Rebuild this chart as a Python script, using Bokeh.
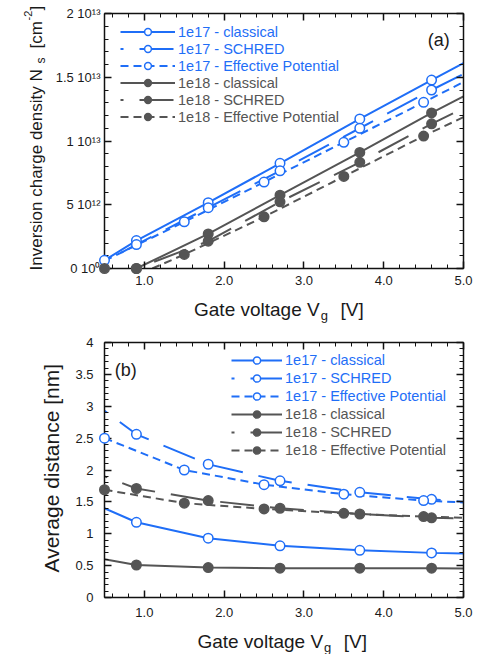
import math
from bokeh.plotting import figure
from bokeh.models import (FixedTicker, LinearAxis, Legend, LegendItem, Range1d)
from bokeh.core.properties import value
from bokeh.layouts import column
from bokeh.embed import file_html
from bokeh.resources import INLINE

BLUE = "#1f6ef7"
GRAY = "#555555"
FONT = "Liberation Sans"
TXT = "#1a1a1a"

# ---------------- data: panel (a)  Ns in units of 1e12 cm^-2 ----------------
a17_cl_v = [0.5, 0.9, 1.8, 2.7, 3.7, 4.6, 5.0]
a17_cl_n = [0.64, 2.19, 5.16, 8.25, 11.73, 14.78, 16.1]
a17_cl_mv = [0.9, 1.8, 2.7, 3.7, 4.6]
a17_cl_mn = [2.19, 5.16, 8.25, 11.73, 14.78]

a17_sc_v = [0.5, 0.9, 1.8, 2.7, 3.7, 4.6, 5.0]
a17_sc_n = [0.55, 1.88, 4.77, 7.66, 11.0, 14.0, 15.25]
a17_sc_mv = [0.9, 1.8, 2.7, 3.7, 4.6]
a17_sc_mn = [1.88, 4.77, 7.66, 11.0, 14.0]

a17_ep_v = [0.5, 1.5, 2.5, 3.5, 4.5, 5.0]
a17_ep_n = [0.6, 3.66, 6.78, 9.9, 13.03, 14.63]
a17_ep_mv = [0.5, 1.5, 2.5, 3.5, 4.5]
a17_ep_mn = [0.64, 3.66, 6.78, 9.9, 13.03]

a18_cl_v = [0.9, 1.8, 2.7, 3.7, 4.6, 5.0]
a18_cl_n = [0.0, 2.71, 5.75, 9.1, 12.2, 13.5]
a18_cl_mv = [0.9, 1.8, 2.7, 3.7, 4.6]
a18_cl_mn = [0.0, 2.71, 5.75, 9.1, 12.2]

a18_sc_v = [0.9, 1.8, 2.7, 3.7, 4.6, 5.0]
a18_sc_n = [0.0, 2.14, 5.23, 8.33, 11.35, 12.56]
a18_sc_mv = [0.9, 1.8, 2.7, 3.7, 4.6]
a18_sc_mn = [0.0, 2.14, 5.23, 8.33, 11.35]

a18_ep_v = [1.1, 1.5, 2.5, 3.5, 4.5, 5.0]
a18_ep_n = [0.0, 1.1, 4.05, 7.22, 10.39, 11.87]
a18_ep_mv = [0.5, 1.5, 2.5, 3.5, 4.5]
a18_ep_mn = [0.0, 1.1, 4.05, 7.22, 10.39]

# ---------------- data: panel (b)  average distance [nm] ----------------
b_v = [0.5, 0.9, 1.8, 2.7, 3.7, 4.6, 5.0]
b_mv = [0.9, 1.8, 2.7, 3.7, 4.6]
b_ep_v = [0.5, 1.5, 2.5, 3.5, 4.5, 5.0]
b_ep_mv = [0.5, 1.5, 2.5, 3.5, 4.5]

b17_cl = [1.40, 1.18, 0.93, 0.81, 0.74, 0.70, 0.69]
b17_cl_m = [1.18, 0.93, 0.81, 0.74, 0.70]
b17_sc = [2.93, 2.56, 2.09, 1.83, 1.65, 1.54, 1.50]
b17_sc_m = [2.56, 2.09, 1.83, 1.65, 1.54]
b17_ep = [2.50, 2.00, 1.77, 1.62, 1.52, 1.49]
b17_ep_m = [2.50, 2.00, 1.77, 1.62, 1.52]

b18_cl = [0.60, 0.51, 0.47, 0.46, 0.46, 0.46, 0.455]
b18_cl_m = [0.51, 0.47, 0.46, 0.46, 0.46]
b18_sc = [1.90, 1.71, 1.52, 1.40, 1.31, 1.25, 1.24]
b18_sc_m = [1.71, 1.52, 1.40, 1.31, 1.25]
b18_ep = [1.69, 1.48, 1.39, 1.32, 1.27, 1.25]
b18_ep_m = [1.69, 1.48, 1.39, 1.32, 1.27]

labels17 = ["1e17 - classical", "1e17 - SCHRED", "1e17 - Effective Potential"]
labels18 = ["1e18 - classical", "1e18 - SCHRED", "1e18 - Effective Potential"]

# ---------------- ticks ----------------
x_ticks = [1, 2, 3, 4, 5]
x_minor = [round(0.6 + 0.2 * i, 1) for i in range(22)]
x_tick_labels = ["1.0", "2.0", "3.0", "4.0", "5.0"]

ya_ticks = [0, 5, 10, 15, 20]
ya_minor = list(range(0, 21))
ya_tick_labels = ["0 10\u2070", "5 10\u00b9\u00b2", "1 10\u00b9\u00b3",
                  "1.5 10\u00b9\u00b3", "2 10\u00b9\u00b3"]

yb_ticks = [0, 0.5, 1, 1.5, 2, 2.5, 3, 3.5, 4]
yb_minor = [round(0.1 * i, 1) for i in range(41)]
yb_tick_labels = ["0", "0.5", "1", "1.5", "2", "2.5", "3", "3.5", "4"]

SOLID = "solid"
SCHRED_DASH = "34 16"
EP_DASH = "8 5"

FH = 255   # frame height in px (both panels)


def style_axis(ax, labels_on, standoff):
    ax.axis_line_width = 1.5
    ax.axis_line_color = "#111111"
    ax.major_tick_in = 7
    ax.major_tick_out = 0
    ax.minor_tick_in = 4
    ax.minor_tick_out = 0
    ax.major_tick_line_width = 1.5
    ax.major_tick_line_color = "#111111"
    ax.minor_tick_line_width = 1
    ax.minor_tick_line_color = "#111111"
    ax.major_label_text_font = FONT
    if labels_on:
        ax.major_label_text_color = TXT
        ax.major_label_text_font_size = "13px"
        ax.major_label_standoff = standoff
    else:
        ax.major_label_text_color = None
        ax.major_label_text_font_size = "1px"
        ax.major_label_standoff = 0
    ax.axis_label = None


def setup(p, yt, ym, ylabels, xstand, ystand):
    xt = FixedTicker(ticks=x_ticks, minor_ticks=x_minor)
    ytk = FixedTicker(ticks=yt, minor_ticks=ym)
    p.xaxis[0].ticker = xt
    p.yaxis[0].ticker = ytk
    p.xaxis[0].major_label_overrides = {t: l for t, l in zip(x_ticks, x_tick_labels)}
    p.yaxis[0].major_label_overrides = {t: l for t, l in zip(yt, ylabels)}
    style_axis(p.xaxis[0], True, xstand)
    style_axis(p.yaxis[0], True, ystand)
    top = LinearAxis(ticker=xt)
    right = LinearAxis(ticker=ytk)
    style_axis(top, False, 0)
    style_axis(right, False, 0)
    p.add_layout(top, "above")
    p.add_layout(right, "right")
    p.xgrid.visible = False
    p.ygrid.visible = False
    p.outline_line_color = None
    p.background_fill_color = "white"
    p.border_fill_color = "white"


def series(p, lv, ly, mv, my, color, dash, filled):
    kw = dict(line_color=color, line_width=2)
    if dash != SOLID:
        kw["line_dash"] = dash
        if dash == SCHRED_DASH:
            kw["line_dash_offset"] = 31
    l = p.line(lv, ly, **kw)
    s = p.scatter(mv, my, marker="circle", size=9.5, line_color=color,
                  line_width=1.5,
                  fill_color=color if filled else "white", level="overlay")
    return [l, s]


def add_legends(p, r17, r18, x, ytop, row, gw, fs):
    for rends, labs, col, k in ((r17, labels17, BLUE, 0), (r18, labels18, GRAY, 1)):
        items = [LegendItem(label=lab, renderers=r) for lab, r in zip(labs, rends)]
        top = ytop + k * 3 * row
        lg = Legend(items=items, location=(x, FH - top - 3 * row),
                    glyph_width=gw, glyph_height=row, label_height=row,
                    label_standoff=3, spacing=0, padding=0, margin=0,
                    border_line_color=None, background_fill_alpha=0,
                    label_text_font=FONT, label_text_font_size=fs,
                    label_text_color=col)
        p.add_layout(lg)


def lab(p, fw, text, sx, sy, size, align="left", angle=0.0, color=TXT):
    """Place a text at a pixel offset (sx right, sy up) from the frame's
    bottom-left corner, converted through the figure's own ranges."""
    xr, yr = p.x_range, p.y_range
    x = xr.start + sx * (xr.end - xr.start) / fw
    y = yr.start + sy * (yr.end - yr.start) / FH
    p.text(x=[x], y=[y], text=[text], text_font=value(FONT),
           text_font_size=value(size), text_color=color,
           text_align=align, text_baseline="alphabetic", angle=angle,
           level="overlay")


ANG = math.pi / 2

# ================= panel (a) =================
p1 = figure(width=480, height=328, x_range=Range1d(0.5, 5.0),
            y_range=Range1d(0, 20), output_backend="svg",
            toolbar_location=None, min_border_left=104, min_border_right=14,
            min_border_top=13, min_border_bottom=60)
setup(p1, ya_ticks, ya_minor, ya_tick_labels, 7, 4)
FW1 = 480 - 104 - 14

r17 = [series(p1, a17_cl_v, a17_cl_n, a17_cl_mv, a17_cl_mn, BLUE, SOLID, False),
       series(p1, a17_sc_v, a17_sc_n, a17_sc_mv, a17_sc_mn, BLUE, SCHRED_DASH, False),
       series(p1, a17_ep_v, a17_ep_n, a17_ep_mv, a17_ep_mn, BLUE, EP_DASH, False)]
r18 = [series(p1, a18_cl_v, a18_cl_n, a18_cl_mv, a18_cl_mn, GRAY, SOLID, True),
       series(p1, a18_sc_v, a18_sc_n, a18_sc_mv, a18_sc_mn, GRAY, SCHRED_DASH, True),
       series(p1, a18_ep_v, a18_ep_n, a18_ep_mv, a18_ep_mn, GRAY, EP_DASH, True)]
add_legends(p1, r17, r18, 16, 10.2, 17, 55, "14.5px")

lab(p1, FW1, "(a)", 337, 229, "18px", align="center")
# x label
lab(p1, FW1, "Gate voltage V", 217, -41, "19px", align="right")
lab(p1, FW1, "g", 218, -47, "13px")
lab(p1, FW1, "[V]", 238, -41, "19px")
# y label (rotated)
lab(p1, FW1, "Inversion charge density  N", -69, 204, "17px", align="right", angle=ANG)
lab(p1, FW1, "s", -64, 205, "12px", angle=ANG)
lab(p1, FW1, "[cm", -69, 220, "17px", angle=ANG)
lab(p1, FW1, "-2", -77, 248, "11px", angle=ANG)
lab(p1, FW1, "]", -69, 258, "17px", angle=ANG)

# ================= panel (b) =================
p2 = figure(width=480, height=326, x_range=Range1d(0.5, 5.0),
            y_range=Range1d(0, 4), output_backend="svg",
            toolbar_location=None, min_border_left=100, min_border_right=17,
            min_border_top=14, min_border_bottom=57)
setup(p2, yb_ticks, yb_minor, yb_tick_labels, 10, 11)
FW2 = 480 - 100 - 17

q17 = [series(p2, b_v, b17_cl, b_mv, b17_cl_m, BLUE, SOLID, False),
       series(p2, b_v, b17_sc, b_mv, b17_sc_m, BLUE, SCHRED_DASH, False),
       series(p2, b_ep_v, b17_ep, b_ep_mv, b17_ep_m, BLUE, EP_DASH, False)]
q18 = [series(p2, b_v, b18_cl, b_mv, b18_cl_m, GRAY, SOLID, True),
       series(p2, b_v, b18_sc, b_mv, b18_sc_m, GRAY, SCHRED_DASH, True),
       series(p2, b_ep_v, b18_ep, b_ep_mv, b18_ep_m, GRAY, EP_DASH, True)]
add_legends(p2, q17, q18, 127, 9, 18, 51, "14.5px")

lab(p2, FW2, "(b)", 21.5, 228, "18px", align="center")
lab(p2, FW2, "Gate voltage V", 221, -44, "19px", align="right")
lab(p2, FW2, "g", 222, -50, "13px")
lab(p2, FW2, "[V]", 242, -44, "19px")
lab(p2, FW2, "Average distance  [nm]", -54, 25, "21px", angle=ANG)

layout = column(p1, p2)
open("out.html", "w").write(file_html(layout, INLINE))
